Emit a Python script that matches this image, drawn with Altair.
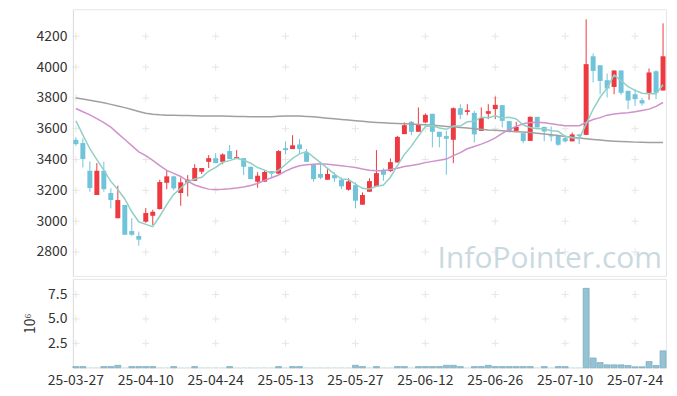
import altair as alt
import pandas as pd

dates = [
    "25-03-27", "25-03-28", "25-03-31",
    "25-04-01", "25-04-02", "25-04-03", "25-04-04", "25-04-07", "25-04-08", "25-04-09",
    "25-04-10", "25-04-11", "25-04-14", "25-04-15", "25-04-16", "25-04-17", "25-04-18",
    "25-04-21", "25-04-22", "25-04-23", "25-04-24", "25-04-25", "25-04-28", "25-04-29", "25-04-30",
    "25-05-02", "25-05-07", "25-05-08", "25-05-09", "25-05-12", "25-05-13", "25-05-14", "25-05-15",
    "25-05-16", "25-05-19", "25-05-20", "25-05-21", "25-05-22", "25-05-23", "25-05-26", "25-05-27",
    "25-05-28", "25-05-29", "25-05-30",
    "25-06-02", "25-06-04", "25-06-05", "25-06-09", "25-06-10", "25-06-11", "25-06-12", "25-06-13",
    "25-06-16", "25-06-17", "25-06-18", "25-06-19", "25-06-20", "25-06-23", "25-06-24", "25-06-25",
    "25-06-26", "25-06-27", "25-06-30",
    "25-07-01", "25-07-02", "25-07-03", "25-07-04", "25-07-07", "25-07-08", "25-07-09", "25-07-10",
    "25-07-11", "25-07-14", "25-07-15", "25-07-16", "25-07-17", "25-07-18", "25-07-21", "25-07-22",
    "25-07-23", "25-07-24", "25-07-25", "25-07-28", "25-07-29", "25-07-30",
]

opens = [3528, 3507, 3327, 3170, 3327, 3183, 3019, 3105, 2936, 2904,
         2997, 3035, 3079, 3249, 3291, 3183, 3249, 3262, 3321, 3385,
         3409, 3385, 3455, 3407, 3409, 3353, 3256, 3256, 3325, 3308,
         3474, 3468, 3498, 3446, 3370, 3306, 3269, 3299, 3269, 3204,
         3234, 3107, 3191, 3226, 3334, 3325, 3381, 3565, 3645, 3580,
         3641, 3697, 3580, 3552, 3528, 3733, 3709, 3703, 3586, 3697,
         3727, 3753, 3649, 3586, 3571, 3521, 3677, 3612, 3558, 3554,
         3539, 3518, 3563, 3560, 4070, 4012, 3915, 3871, 3978, 3846,
         3824, 3785, 3833, 3973, 3848]

highs = [3545, 3537, 3388, 3377, 3385, 3213, 3230, 3105, 3019, 2932,
         3085, 3074, 3269, 3327, 3295, 3284, 3299, 3370, 3345, 3429,
         3442, 3440, 3494, 3461, 3409, 3353, 3317, 3332, 3325, 3461,
         3518, 3558, 3532, 3468, 3370, 3385, 3343, 3317, 3284, 3278,
         3252, 3187, 3278, 3461, 3343, 3407, 3553, 3641, 3650, 3738,
         3699, 3697, 3580, 3586, 3738, 3759, 3759, 3716, 3738, 3759,
         3809, 3753, 3649, 3645, 3571, 3680, 3677, 3612, 3615, 3560,
         3554, 3575, 3563, 4310, 4088, 4012, 3958, 3978, 3978, 3846,
         3857, 3800, 3991, 3980, 4284]

lows = [3489, 3349, 3191, 3170, 3191, 3083, 3019, 2912, 2905, 2841,
        2990, 2975, 3075, 3208, 3200, 3100, 3161, 3262, 3306, 3345,
        3377, 3370, 3403, 3403, 3299, 3273, 3217, 3256, 3282, 3308,
        3433, 3468, 3435, 3385, 3256, 3273, 3269, 3256, 3208, 3198,
        3083, 3107, 3191, 3226, 3262, 3319, 3381, 3565, 3558, 3580,
        3635, 3479, 3479, 3301, 3377, 3662, 3688, 3511, 3586, 3662,
        3662, 3608, 3575, 3586, 3505, 3521, 3608, 3518, 3518, 3489,
        3510, 3518, 3500, 3560, 3900, 3824, 3803, 3824, 3820, 3727,
        3748, 3750, 3787, 3792, 3848]

closes = [3500, 3403, 3215, 3327, 3208, 3137, 3137, 2912, 2912, 2880,
          3053, 3061, 3254, 3291, 3213, 3252, 3269, 3345, 3345, 3409,
          3377, 3433, 3403, 3416, 3353, 3273, 3295, 3319, 3310, 3455,
          3461, 3492, 3468, 3385, 3273, 3282, 3306, 3278, 3226, 3258,
          3133, 3170, 3260, 3312, 3301, 3383, 3547, 3623, 3580, 3628,
          3690, 3580, 3547, 3535, 3733, 3690, 3720, 3563, 3669, 3714,
          3755, 3651, 3582, 3612, 3520, 3677, 3608, 3582, 3550, 3496,
          3518, 3563, 3554, 4019, 3975, 3910, 3861, 3978, 3833, 3783,
          3792, 3764, 3965, 3833, 4070]

ma5 = [3651, 3560, 3470, 3400, 3331, 3258, 3205, 3144, 3061, 2996,
       2979, 2964, 3032, 3108, 3174, 3214, 3256, 3274, 3285, 3324,
       3349, 3382, 3393, 3408, 3396, 3376, 3348, 3331, 3310, 3330,
       3368, 3407, 3437, 3452, 3416, 3380, 3343, 3305, 3273, 3270,
       3240, 3213, 3209, 3227, 3235, 3285, 3361, 3433, 3487, 3552,
       3614, 3620, 3605, 3596, 3617, 3617, 3645, 3648, 3675, 3671,
       3684, 3670, 3674, 3663, 3624, 3608, 3600, 3600, 3587, 3583,
       3551, 3542, 3536, 3630, 3726, 3804, 3864, 3949, 3911, 3873,
       3849, 3830, 3827, 3827, 3885]

ma20 = [3731, 3710, 3690, 3665, 3640, 3610, 3570, 3530, 3490, 3450,
        3425, 3395, 3360, 3330, 3310, 3290, 3260, 3235, 3220, 3208,
        3206, 3207, 3210, 3215, 3222, 3232, 3245, 3265, 3282, 3300,
        3325, 3345, 3360, 3366, 3370, 3372, 3370, 3365, 3360, 3354,
        3348, 3338, 3330, 3327, 3328, 3335, 3343, 3355, 3362, 3370,
        3380, 3388, 3395, 3403, 3425, 3445, 3470, 3485, 3500, 3518,
        3540, 3570, 3595, 3615, 3632, 3641, 3642, 3638, 3632, 3625,
        3620, 3619, 3619, 3640, 3660, 3672, 3688, 3695, 3700, 3703,
        3710, 3718, 3727, 3745, 3770]

ma120 = [3800, 3793, 3785, 3777, 3768, 3758, 3748, 3737, 3725, 3712,
         3700, 3694, 3690, 3688, 3687, 3686, 3685, 3684, 3683, 3683,
         3682, 3682, 3681, 3680, 3679, 3678, 3677, 3677, 3678, 3681,
         3683, 3683, 3682, 3680, 3677, 3673, 3668, 3664, 3660, 3656,
         3652, 3648, 3644, 3641, 3638, 3636, 3634, 3632, 3630, 3628,
         3625, 3622, 3619, 3615, 3612, 3608, 3604, 3600, 3596, 3592,
         3590, 3587, 3584, 3581, 3578, 3575, 3571, 3566, 3561, 3556,
         3550, 3545, 3540, 3535, 3530, 3526, 3522, 3519, 3517, 3515,
         3513, 3512, 3511, 3511, 3511]

volume_m = [0.12, 0.12, 0.03, 0.03, 0.12, 0.12, 0.25, 0.03, 0.12, 0.12,
            0.12, 0.12, 0.03, 0.03, 0.12, 0.03, 0.03, 0.12, 0.03, 0.03,
            0.03, 0.03, 0.12, 0.03, 0.03, 0.03, 0.03, 0.03, 0.03, 0.12,
            0.03, 0.12, 0.12, 0.03, 0.03, 0.03, 0.03, 0.03, 0.03, 0.03,
            0.25, 0.12, 0.03, 0.12, 0.03, 0.03, 0.12, 0.12, 0.03, 0.12,
            0.12, 0.12, 0.12, 0.25, 0.25, 0.12, 0.03, 0.12, 0.12, 0.25,
            0.12, 0.12, 0.12, 0.12, 0.12, 0.12, 0.03, 0.12, 0.03, 0.12,
            0.12, 0.03, 0.03, 8.13, 1.0, 0.53, 0.3, 0.3, 0.3, 0.23,
            0.1, 0.1, 0.63, 0.23, 1.73]

price_ticks = [2800, 3000, 3200, 3400, 3600, 3800, 4000, 4200]
volume_ticks = [2.5, 5.0, 7.5]
label_dates = dates[::10]
watermark = "InfoPointer.com"

FONT = "Noto Sans CJK KR"
UP, DOWN = "#ec3a40", "#6fc4da"

df = pd.DataFrame({
    "date": dates, "open": opens, "high": highs, "low": lows, "close": closes,
    "ma5": ma5, "ma20": ma20, "ma120": ma120, "vol": volume_m,
})
df["dir"] = ["up" if c >= o else "down" for o, c in zip(opens, closes)]

cross_price = pd.DataFrame([(d, v) for d in label_dates for v in price_ticks], columns=["date", "v"])
cross_vol = pd.DataFrame([(d, v) for d in label_dates for v in volume_ticks], columns=["date", "v"])

xscale = alt.Scale(domain=dates, paddingInner=0.29, paddingOuter=0.07)
yscale = alt.Scale(domain=[2645, 4375], nice=False, zero=False)
vscale = alt.Scale(domain=[0, 9.1], nice=False)
cscale = alt.Scale(domain=["up", "down"], range=[UP, DOWN])

X = alt.X("date:O", scale=xscale, axis=None)
yaxis = alt.Axis(values=price_ticks, format="d", labelOverlap=False, title=None, ticks=False,
                 grid=False, labelPadding=6, domainColor="#dddddd")


def PY(field):
    return alt.Y(field, scale=yscale, axis=yaxis)


cross_shape = "M-1,0L1,0M0,-1L0,1"

p_cross = alt.Chart(cross_price).mark_point(shape=cross_shape, size=49, filled=False,
                                            stroke="#dcdcdc", strokeWidth=1).encode(
    x=X, y=PY("v:Q"))

wm = alt.Chart(pd.DataFrame({"t": [watermark]})).mark_text(
    align="right", baseline="alphabetic", font="Open Sans", fontSize=30,
    color="#cad9e0").encode(text="t:N", x=alt.value(590), y=alt.value(259))

wick = alt.Chart(df).mark_rule(strokeWidth=1).encode(
    x=X, y=PY("low:Q"), y2="high:Q",
    color=alt.Color("dir:N", scale=cscale, legend=None))

body = alt.Chart(df).mark_bar().encode(
    x=X, y=PY("open:Q"), y2="close:Q",
    color=alt.Color("dir:N", scale=cscale, legend=None))


def ma_line(field, col):
    return alt.Chart(df).mark_line(strokeWidth=1.5, color=col).encode(
        x=X, y=PY(f"{field}:Q"))


price = alt.layer(
    p_cross, wm, wick, body,
    ma_line("ma120", "#a0a0a0"), ma_line("ma20", "#cf92cb"), ma_line("ma5", "#90d0c6"),
).properties(width=594, height=267)

xaxis_v = alt.Axis(values=label_dates, labelAngle=0, ticks=False, domain=False, grid=False,
                   title=None, labelPadding=6)
vaxis = alt.Axis(values=volume_ticks, format=".1f", title="10⁶", ticks=False,
                 grid=False, labelPadding=6, titlePadding=10, labelOverlap=False,
                 domainColor="#dddddd")

v_cross = alt.Chart(cross_vol).mark_point(shape=cross_shape, size=49, filled=False,
                                          stroke="#dcdcdc", strokeWidth=1).encode(
    x=alt.X("date:O", scale=xscale, axis=xaxis_v),
    y=alt.Y("v:Q", scale=vscale, axis=vaxis))

vbars = alt.Chart(df).mark_bar(width=6, fill="#95c3d3", stroke="#74a9bd").encode(
    x=alt.X("date:O", scale=xscale, axis=xaxis_v),
    y=alt.Y("vol:Q", scale=vscale, axis=vaxis),
    strokeWidth=alt.condition("datum.vol > 0.05", alt.value(0.7), alt.value(0)))

vol = alt.layer(v_cross, vbars).properties(width=594, height=89)

chart = alt.vconcat(price, vol, spacing=1).properties(
    padding={"left": 15, "top": 0, "right": 2, "bottom": 2}
).configure_view(stroke="#e6e6e6").configure_axis(
    labelFont=FONT, labelFontSize=14, labelColor="#333333",
    titleFont=FONT, titleFontSize=14, titleFontWeight="normal", titleColor="#333333",
).configure_concat(spacing=1)

chart.save("out.html", embed_options={"renderer": "svg", "actions": False})
